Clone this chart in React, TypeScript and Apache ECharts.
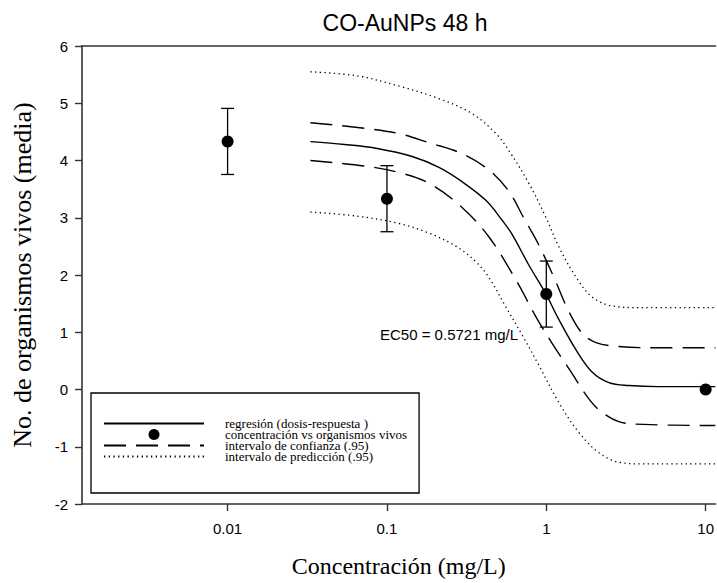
import { useEffect, useRef } from "react";
import * as echarts from "echarts";

// ---------- Data ----------
const chartTitle = "CO-AuNPs 48 h";
const xAxisName = "Concentración (mg/L)";
const yAxisName = "No. de organismos vivos (media)";
const ec50Label = "EC50 = 0.5721 mg/L";

const xTickConc = [0.01, 0.1, 1, 10];
const xTickLabels = ["0.01", "0.1", "1", "10"];
const xRangeConc = [0.00122, 11.53];
const yRange = [-2, 6];
const yInterval = 1;

const nameReg = "regresión (dosis-respuesta )";
const namePts = "concentración vs organismos vivos";
const nameCI = "intervalo de confianza (.95)";
const namePI = "intervalo de predicción (.95)";

// observed means with error (mg/L, organisms)
const pointConc = [0.01, 0.1, 1, 10];
const pointMean = [4.333, 3.333, 1.667, 0.0];
const pointErr = [0.577, 0.577, 0.577, 0];

// fitted dose-response curve
const regConc = [0.0331, 0.0541, 0.0869, 0.144, 0.212, 0.296, 0.419, 0.527, 0.61, 0.778, 0.993, 1.2, 1.53, 1.93, 2.47, 3.29, 5.07, 11.5];
const regY = [4.33, 4.28, 4.21, 4.07, 3.88, 3.63, 3.3, 2.96, 2.71, 2.17, 1.67, 1.22, 0.7, 0.31, 0.12, 0.07, 0.05, 0.05];

// 95% confidence band
const ciUpperConc = [0.0331, 0.0741, 0.119, 0.184, 0.296, 0.438, 0.583, 0.724, 0.899, 1.12, 1.38, 1.67, 2.05, 2.85, 5.07, 11.5];
const ciUpperY = [4.66, 4.56, 4.47, 4.31, 4.12, 3.83, 3.46, 2.99, 2.52, 1.95, 1.37, 0.99, 0.82, 0.75, 0.73, 0.73];
const ciLowerConc = [0.0331, 0.0741, 0.119, 0.184, 0.296, 0.438, 0.646, 0.861, 1.08, 1.45, 1.77, 2.13, 2.85, 4.08, 11.5];
const ciLowerY = [4.0, 3.9, 3.79, 3.6, 3.18, 2.66, 1.91, 1.27, 0.82, 0.28, -0.09, -0.35, -0.56, -0.61, -0.63];

// 95% prediction band
const piUpperConc = [0.0331, 0.0643, 0.119, 0.212, 0.342, 0.483, 0.583, 0.778, 0.993, 1.2, 1.53, 1.93, 2.58, 3.8, 11.5];
const piUpperY = [5.55, 5.48, 5.3, 5.08, 4.82, 4.47, 4.17, 3.6, 3.01, 2.49, 1.97, 1.62, 1.46, 1.43, 1.43];
const piLowerConc = [0.0331, 0.0643, 0.119, 0.184, 0.272, 0.362, 0.438, 0.558, 0.703, 0.899, 1.2, 1.6, 2.13, 2.85, 4.21, 11.5];
const piLowerY = [3.1, 3.03, 2.9, 2.73, 2.5, 2.23, 1.95, 1.44, 0.96, 0.42, -0.23, -0.75, -1.1, -1.27, -1.3, -1.3];

// ---------- helpers ----------
const lg = (v: number) => Math.log10(v);
const pairs = (xs: number[], ys: number[]) => xs.map((x, i) => [lg(x), ys[i]]);

const SERIF = "'Liberation Serif', 'Times New Roman', serif";
const SANS = "'Liberation Sans', Arial, sans-serif";
const AXIS_COLOR = "#333";

export default function App() {
  const ref = useRef<HTMLDivElement>(null);

  useEffect(() => {
    if (!ref.current) return;
    const chart = echarts.init(ref.current, undefined, { renderer: "svg" });

    const xMin = lg(xRangeConc[0]);
    const xMax = lg(xRangeConc[1]);
    const tickVals = xTickConc.map(lg);

    const lineBase = { type: "line" as const, symbol: "none", smooth: 0.35, silent: true, z: 2 };

    chart.setOption({
      animation: false,
      backgroundColor: "#fff",
      title: {
        text: chartTitle,
        left: 400,
        textAlign: "center",
        top: 6,
        textStyle: { fontFamily: SANS, fontSize: 23, fontWeight: "normal", color: "#000" },
      },
      grid: { left: 82, top: 46, right: 0, bottom: 78, containLabel: false },
      xAxis: [
        {
          type: "value",
          min: xMin,
          max: xMax,
          name: xAxisName,
          nameLocation: "middle",
          nameGap: 50,
          nameTextStyle: { fontFamily: SERIF, fontSize: 24, color: "#000" },
          axisLine: { show: true, onZero: false, lineStyle: { color: AXIS_COLOR, width: 1.6 } },
          axisTick: { show: true, inside: false, length: 7, customValues: tickVals, lineStyle: { color: AXIS_COLOR, width: 1.4 } },
          axisLabel: {
            show: true,
            customValues: tickVals,
            margin: 17,
            fontFamily: SANS,
            fontSize: 15,
            color: "#000",
            formatter: (v: number) => {
              const i = tickVals.findIndex((t) => Math.abs(t - v) < 1e-6);
              return i >= 0 ? xTickLabels[i] : "";
            },
          },
          splitLine: { show: false },
        },
        {
          type: "value",
          position: "top",
          min: xMin,
          max: xMax,
          axisLine: { show: true, onZero: false, lineStyle: { color: AXIS_COLOR, width: 1.6 } },
          axisTick: { show: false },
          axisLabel: { show: false },
          splitLine: { show: false },
        },
      ],
      yAxis: {
        type: "value",
        min: yRange[0],
        max: yRange[1],
        interval: yInterval,
        name: yAxisName,
        nameLocation: "middle",
        nameGap: 47,
        nameTextStyle: { fontFamily: SERIF, fontSize: 26, color: "#000" },
        axisLine: { show: true, onZero: false, lineStyle: { color: AXIS_COLOR, width: 1.6 } },
        axisTick: { show: true, inside: false, length: 7, lineStyle: { color: AXIS_COLOR, width: 1.4 } },
        axisLabel: { margin: 14, fontFamily: SANS, fontSize: 15, color: "#000" },
        splitLine: { show: false },
      },
      legend: {
        orient: "vertical",
        left: 91,
        top: 393,
        itemWidth: 100,
        itemHeight: 11,
        itemGap: -2,
        padding: [24, 12, 30, 12],
        borderColor: "#000",
        borderWidth: 1.3,
        backgroundColor: "#fff",
        selectedMode: false,
        textStyle: { fontFamily: SERIF, fontSize: 13, color: "#000", lineHeight: 11, padding: [0, 0, 0, 16] },
        data: [
          { name: nameReg, itemStyle: { opacity: 0 } },
          { name: namePts },
          { name: nameCI, itemStyle: { opacity: 0 } },
          { name: namePI, itemStyle: { opacity: 0 } },
        ],
      },
      graphic: [
        {
          type: "text",
          left: 380,
          top: 327,
          style: { text: ec50Label, fontFamily: SANS, fontSize: 15, fill: "#000" },
        },
      ],
      series: [
        {
          ...lineBase,
          name: namePI,
          data: pairs(piUpperConc, piUpperY),
          lineStyle: { color: "#000", width: 1.3, type: [1.3, 3.4] },
        },
        {
          ...lineBase,
          name: namePI,
          data: pairs(piLowerConc, piLowerY),
          lineStyle: { color: "#000", width: 1.3, type: [1.3, 3.4] },
        },
        {
          ...lineBase,
          name: nameCI,
          data: pairs(ciUpperConc, ciUpperY),
          lineStyle: { color: "#000", width: 1.4, type: [22, 10] },
        },
        {
          ...lineBase,
          name: nameCI,
          data: pairs(ciLowerConc, ciLowerY),
          lineStyle: { color: "#000", width: 1.4, type: [22, 10] },
        },
        {
          ...lineBase,
          name: nameReg,
          data: pairs(regConc, regY),
          lineStyle: { color: "#000", width: 1.4, type: "solid" },
        },
        {
          type: "custom",
          name: "error",
          silent: true,
          z: 3,
          data: pointConc.map((c, i) => [lg(c), pointMean[i], pointErr[i]]),
          encode: { x: 0, y: 1 },
          renderItem: (_p: any, api: any) => {
            const x = api.value(0);
            const m = api.value(1);
            const e = api.value(2);
            if (!e) return { type: "group", children: [] };
            const top = api.coord([x, m + e]);
            const bot = api.coord([x, m - e]);
            const cap = 6.5;
            const style = { stroke: "#000", lineWidth: 1.3 };
            return {
              type: "group",
              children: [
                { type: "line", shape: { x1: top[0], y1: top[1], x2: bot[0], y2: bot[1] }, style },
                { type: "line", shape: { x1: top[0] - cap, y1: top[1], x2: top[0] + cap, y2: top[1] }, style },
                { type: "line", shape: { x1: bot[0] - cap, y1: bot[1], x2: bot[0] + cap, y2: bot[1] }, style },
              ],
            };
          },
        },
        {
          type: "scatter",
          name: namePts,
          symbol: "circle",
          symbolSize: 12,
          itemStyle: { color: "#000", opacity: 1 },
          z: 4,
          silent: true,
          data: pointConc.map((c, i) => [lg(c), pointMean[i]]),
        },
      ],
    });

    return () => chart.dispose();
  }, []);

  return (
    <div
      ref={ref}
      style={{ position: "absolute", left: 0, top: 0, width: 717, height: 583, background: "#fff" }}
    />
  );
}
